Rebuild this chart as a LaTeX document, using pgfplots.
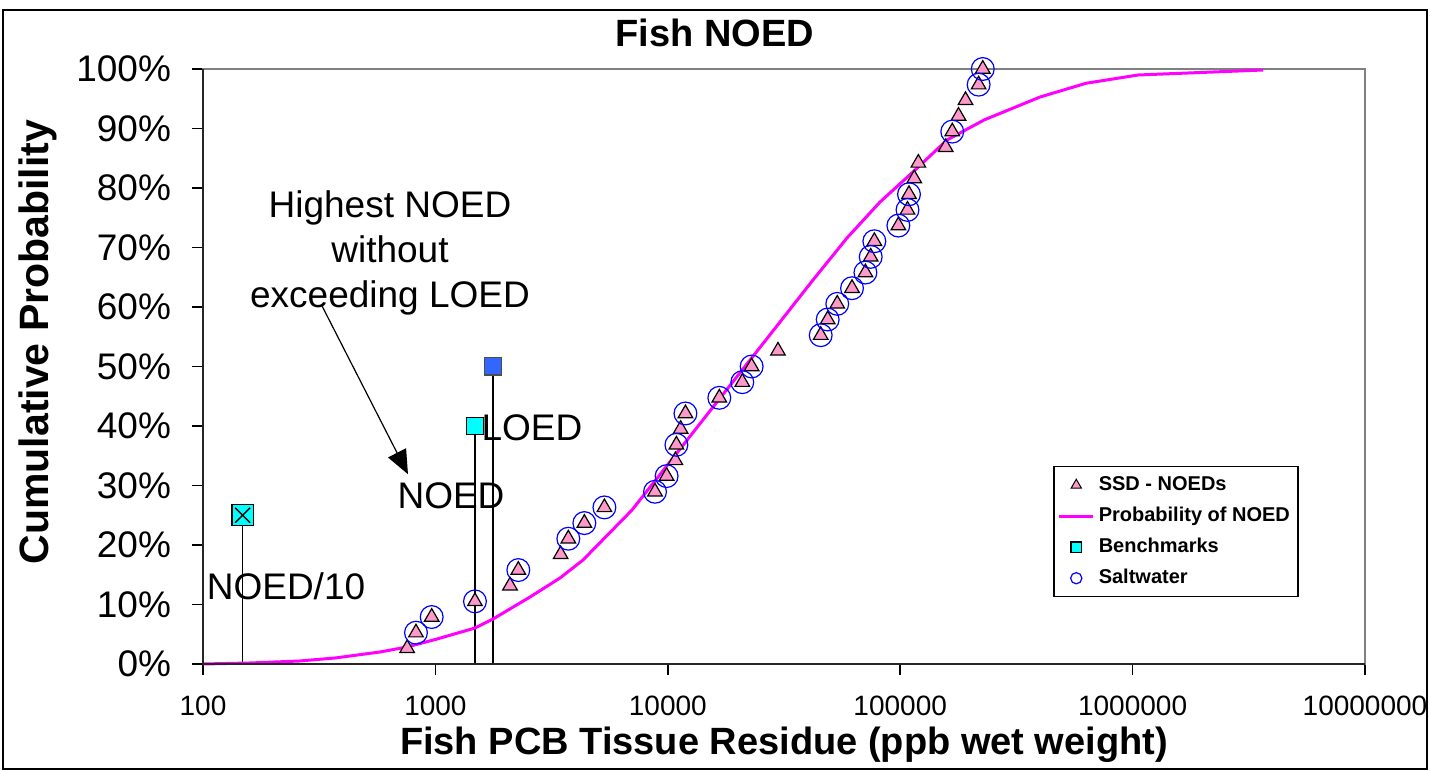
\documentclass[border=0pt]{standalone}
\usepackage{fontspec}
\setmainfont{Liberation Sans}
\usepackage{pgfplots}
\usepackage{pgfplotstable}
\pgfplotsset{compat=1.18}
\usetikzlibrary{arrows.meta}
\definecolor{ssdpink}{HTML}{FF99CC}
\definecolor{probmag}{HTML}{FF00FF}
\definecolor{benchcyan}{HTML}{00FFFF}
\definecolor{loedblue}{HTML}{3366FF}
\definecolor{saltblue}{HTML}{0000FF}
\definecolor{framegray}{HTML}{808080}

\pgfplotstableread{
x y
756 2.632
825 5.263
964 7.895
1480 10.526
2094 13.158
2274 15.789
3459 18.421
3733 21.053
4375 23.684
5336 26.316
8810 28.947
9885 31.579
10780 34.211
10890 36.842
11360 39.474
11910 42.105
16660 44.737
20920 47.368
22950 50.0
29790 52.632
45500 55.263
48750 57.895
53600 60.526
62040 63.158
70850 65.789
74680 68.421
77410 71.053
98200 73.684
107500 76.316
109100 78.947
115000 81.579
119700 84.211
157000 86.842
167500 89.474
178200 92.105
191000 94.737
217500 97.368
226600 100
}\ssdtable

\pgfplotstableread{
x y
825 5.263
964 7.895
1480 10.526
2274 15.789
3733 21.053
4375 23.684
5336 26.316
8810 28.947
9885 31.579
10890 36.842
11910 42.105
16660 44.737
20920 47.368
22950 50.0
45500 55.263
48750 57.895
53600 60.526
62040 63.158
70850 65.789
74680 68.421
77410 71.053
98200 73.684
107500 76.316
109100 78.947
167500 89.474
217500 97.368
226600 100
}\salttable

\pgfplotstableread{
x y
100 0
159 0.17
259 0.50
370 1.01
578 2.02
755 2.86
1016 4.2
1481 6.05
1769 7.56
2554 11.26
3436 14.45
4317 17.48
7015 25.88
10530 34.62
16280 44.03
30400 57.48
42150 64.54
59030 71.6
81900 77.65
113500 82.69
159000 88.07
229400 91.43
399600 95.29
630200 97.6
1055000 98.99
3640000 99.83
}\probtable

\newcommand{\annfont}{\fontsize{18.5bp}{22.5bp}\selectfont}

\begin{document}
\begin{tikzpicture}
\useasboundingbox (-101.5bp,-53.5bp) rectangle (613.5bp,332bp);
\draw[black, line width=1bp] (-99.75bp,-52.5bp) rectangle (612bp,327bp);
\begin{axis}[
  at={(0,0)}, anchor=south west,
  scale only axis, width=581bp, height=297.5bp,
  xmode=log, log basis x=10,
  xmin=100, xmax=1e7, ymin=0, ymax=100,
  xtick={1e2,1e3,1e4,1e5,1e6,1e7},
  xticklabels={100,1000,10000,100000,1000000,10000000},
  minor x tick num=0,
  ytick={0,10,20,30,40,50,60,70,80,90,100},
  yticklabels={0\%,10\%,20\%,30\%,40\%,50\%,60\%,70\%,80\%,90\%,100\%},
  xtick pos=bottom, ytick pos=left,
  tick align=outside,
  major tick length=5.5bp,
  tick style={black, line width=0.75bp},
  axis line style={framegray, line width=0.75bp},
  xticklabel style={font=\fontsize{14bp}{16bp}\selectfont, yshift=-7bp},
  yticklabel style={font=\fontsize{18.5bp}{20bp}\selectfont, xshift=-7bp},
  xlabel={Fish PCB Tissue Residue (ppb wet weight)},
  xlabel style={font=\bfseries\fontsize{19bp}{22bp}\selectfont, at={(axis description cs:0.5,-0.1361)}, anchor=center},
  ylabel={Cumulative Probability},
  ylabel style={font=\bfseries\fontsize{20.5bp}{23bp}\selectfont, at={(axis description cs:-0.142,0.541)}, anchor=center, rotate=0},
  title={Fish NOED},
  title style={font=\bfseries\fontsize{19bp}{22bp}\selectfont, at={(axis description cs:0.4406,1.0403)}, anchor=center},
  clip=false,
  legend style={at={(axis description cs:0.7315,0.3328)}, anchor=north west,
    draw=black, line width=0.75bp, fill=white,
    font=\bfseries\fontsize{10bp}{12bp}\selectfont,
    inner xsep=2bp, inner ysep=1.5bp, row sep=0pt,
    nodes={inner sep=2bp, text height=8.5bp, text depth=3bp}},
  legend cell align=left,
]
% drop lines
\addplot[forget plot, black, line width=0.6bp] coordinates {(148,0) (148,25)};
\addplot[forget plot, black, line width=0.6bp] coordinates {(1480,0) (1480,40)};
\addplot[forget plot, black, line width=0.6bp] coordinates {(1770,0) (1770,50)};

% SSD NOEDs
\addplot[forget plot, only marks, mark=triangle*, mark size=4.2bp,
  mark options={fill=ssdpink, draw=black, line width=0.6bp}] table[x=x,y=y] {\ssdtable};

% Probability curve
\addplot[forget plot, probmag, line width=1.5bp, mark=none] table[x=x,y=y] {\probtable};

% Benchmarks
\addplot[forget plot, only marks, mark=square*, mark size=5.3bp,
  mark options={fill=benchcyan, draw=black, line width=0.6bp}] coordinates {(148,25)};
\addplot[forget plot, only marks, mark=x, mark size=5.3bp,
  mark options={draw=black, line width=0.7bp}] coordinates {(148,25)};
\addplot[forget plot, only marks, mark=square*, mark size=4.3bp,
  mark options={fill=benchcyan, draw=black, line width=0.6bp}] coordinates {(1480,40)};
\addplot[forget plot, only marks, mark=square*, mark size=4.3bp,
  mark options={fill=loedblue, draw=black!70, line width=0.6bp}] coordinates {(1770,50)};

% Saltwater
\addplot[forget plot, only marks, mark=o, mark size=5.7bp,
  mark options={draw=saltblue, line width=0.6bp}] table[x=x,y=y] {\salttable};

% legend
\addlegendimage{only marks, mark=triangle*, mark size=3bp, mark options={fill=ssdpink, draw=black, line width=0.5bp}}
\addlegendentry{SSD - NOEDs}
\addlegendimage{probmag, line width=1.5bp}
\addlegendentry{Probability of NOED}
\addlegendimage{only marks, mark=square*, mark size=2.6bp, mark options={fill=benchcyan, draw=black, line width=0.6bp}}
\addlegendentry{Benchmarks}
\addlegendimage{only marks, mark=o, mark size=2.8bp, mark options={draw=saltblue, line width=0.6bp}}
\addlegendentry{Saltwater}

% frame: darker left and bottom axes
\draw[black!85, line width=0.75bp] (rel axis cs:0,1) -- (rel axis cs:0,0) -- (rel axis cs:1,0);

% annotations
\node[font=\annfont, align=center] at (axis cs:637.6,69.1) {Highest NOED\\without\\exceeding LOED};
\draw[black, line width=0.6bp, -{Triangle[length=12bp,width=10bp]}] (axis cs:325,60.2) -- (axis cs:762,31.9);
\node[font=\annfont] at (axis cs:227.6,13.1) {NOED/10};
\node[font=\annfont] at (axis cs:1167,28.2) {NOED};
\node[font=\annfont] at (axis cs:2604,39.66) {LOED};
\end{axis}
\end{tikzpicture}
\end{document}
